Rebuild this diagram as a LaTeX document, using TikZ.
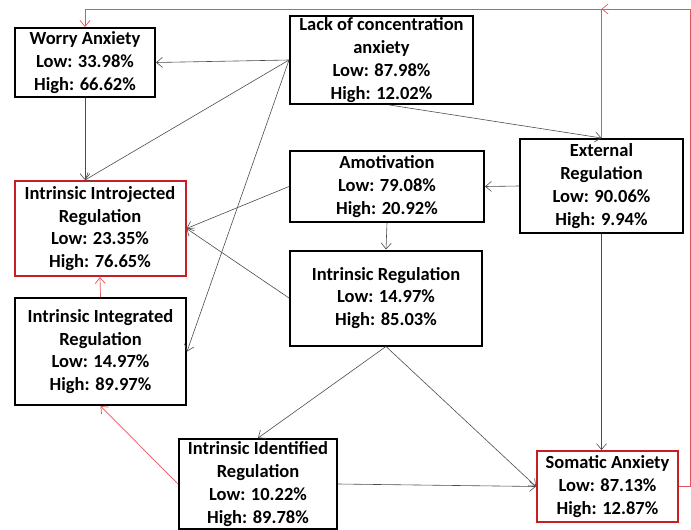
\documentclass[tikz,border=0pt]{standalone}
\usepackage{fontspec}
\setmainfont{Carlito}
\usetikzlibrary{arrows.meta,calc}
\definecolor{boxred}{RGB}{200,30,35}
\definecolor{linkred}{RGB}{225,85,90}
\tikzset{
	box/.style={
		rectangle, draw=black, line width=2pt, align=center, inner sep=0pt,
		font=\fontsize{18.5}{22.8}\selectfont\bfseries
	},
	%
	redbox/.style={
		box, draw=boxred
	},
	%
	link/.style={
		-{Straight Barb[length=6pt,width=10pt]}, draw=black!70, line width=0.6pt
	},
	%
	redlink/.style={
		-{Straight Barb[length=6pt,width=10pt]}, draw=linkred, line width=0.7pt
	}
}
\begin{document}
\begin{tikzpicture}[x=1pt,y=-1pt]
    \useasboundingbox (0,0) rectangle (691,530);
    \node(worry)[box, minimum width=140pt, minimum height=69pt] at (85,62.5)
        {Worry Anxiety\\Low: 33.98\%\\High: 66.62\%};
    \node(lack)[box, minimum width=183pt, minimum height=88pt] at (381.5,60)
        {Lack of concentration\\anxiety\\Low: 87.98\%\\High: 12.02\%};
    \node(extreg)[box, minimum width=163pt, minimum height=94pt] at (601.5,186)
        {External\\Regulation\\Low: 90.06\%\\High: 9.94\%};
    \node(amot)[box, minimum width=194pt, minimum height=71pt] at (387,186.5)
        {Amotivation\\Low: 79.08\%\\High: 20.92\%};
    \node(introj)[redbox, minimum width=171pt, minimum height=95pt] at (100,228.5)
        {Intrinsic Introjected\\Regulation\\Low: 23.35\%\\High: 76.65\%};
    \node(intreg)[box, minimum width=192pt, minimum height=95pt] at (386,298)
        {Intrinsic Regulation\\Low: 14.97\%\\High: 85.03\%};
    \node(integ)[box, minimum width=171pt, minimum height=107pt] at (100.5,351.5)
        {Intrinsic Integrated\\Regulation\\Low: 14.97\%\\High: 89.97\%};
    \node(ident)[box, minimum width=158pt, minimum height=90pt] at (258,484)
        {Intrinsic Identified\\Regulation\\Low: 10.22\%\\High: 89.78\%};
    \node(somatic)[redbox, minimum width=141pt, minimum height=71pt] at (607.5,486.5)
        {Somatic Anxiety\\Low: 87.13\%\\High: 12.87\%};
    % black links
    \draw[link] (lack.west) -- (worry.east);
    \draw[link] (lack.west) -- (worry.south |- introj.north);
    \draw[link] (worry.south) -- (worry.south |- introj.north);
    \draw[link] (lack.west) -- (integ.east);
    \draw[link] ([xshift=8pt]lack.south) -- (extreg.north);
    \draw[link] (extreg.west) -- (amot.east);
    \draw[link] (extreg.south) -- (extreg.south |- somatic.north);
    \draw[link] (amot.west) -- (introj.east);
    \draw[link] (amot.south) -- (intreg.north);
    \draw[link] (intreg.west) -- (introj.east);
    \draw[link] (intreg.south) -- (ident.north);
    \draw[link] (intreg.south) -- (somatic.west);
    \draw[link] (ident.east) -- (somatic.west);
    % red links
    \coordinate(topjoin) at (601.5,9);
    \coordinate(topright) at (690.5,9);
    \draw[redlink] (integ.north) -- (introj.south);
    \draw[redlink] (ident.west) -- (integ.south);
    \draw[redlink] (extreg.north) -- (topjoin) -| (worry.north);
    \draw[redlink] (somatic.east) -- (topright |- somatic.east) -- (topright) -- (topjoin);
\end{tikzpicture}
\end{document}
